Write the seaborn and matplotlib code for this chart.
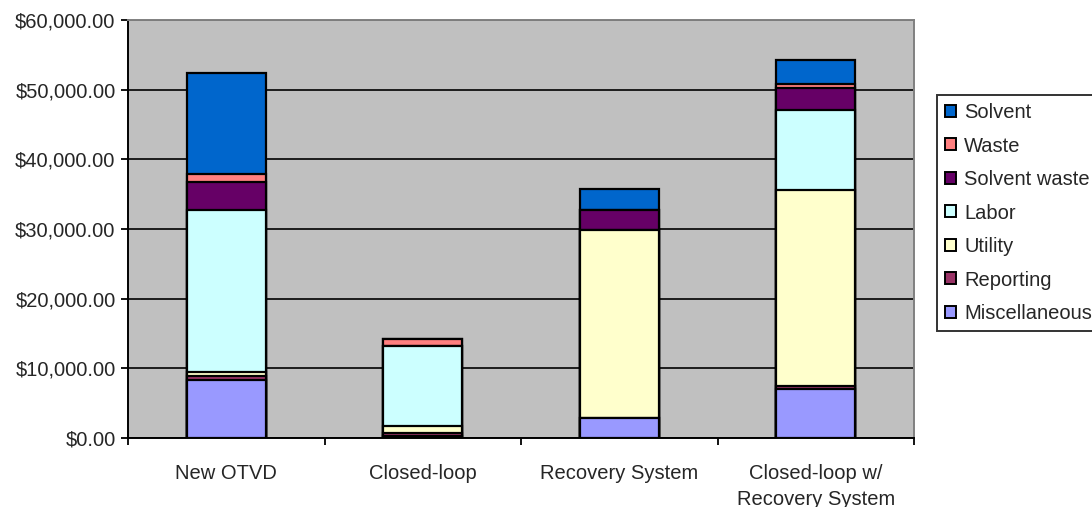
import numpy as np
import pandas as pd
import matplotlib
matplotlib.use("Agg")
import matplotlib.pyplot as plt
from matplotlib.patches import Patch
from matplotlib.ticker import FuncFormatter, FixedLocator
import seaborn as sns

# Annual cost breakdown per system configuration
categories = ["New OTVD", "Closed-loop", "Recovery System", "Closed-loop w/\nRecovery System"]
miscellaneous = [8300, 300, 2830, 7100]
reporting = [600, 350, 0, 350]
utility = [600, 1050, 27030, 28150]
labor = [23200, 11440, 0, 11480]
solvent_waste = [4000, 0, 2890, 3200]
waste = [1150, 1050, 0, 530]
solvent = [14600, 0, 2960, 3450]

series_names = ["Miscellaneous", "Reporting", "Utility", "Labor", "Solvent waste", "Waste", "Solvent"]
series_values = [miscellaneous, reporting, utility, labor, solvent_waste, waste, solvent]
series_colors = ["#9999FF", "#993366", "#FFFFCC", "#CCFFFF", "#660066", "#FF8080", "#0066CC"]

sns.set_theme(style="white")
plt.rcParams["font.family"] = ["Liberation Sans", "DejaVu Sans"]
FS = 14.5

fig = plt.figure(figsize=(10.92, 5.07), dpi=100)
ax = fig.add_axes([128 / 1092, 69 / 507, 786 / 1092, 418 / 507])
ax.set_facecolor("#C0C0C0")

df = pd.DataFrame({name: vals for name, vals in zip(series_names, series_values)})
df["category"] = categories
cum = df[series_names].cumsum(axis=1)

# Stacked bars: draw cumulative totals from the top layer down
for i in range(len(series_names) - 1, -1, -1):
    sns.barplot(x=df["category"], y=cum[series_names[i]], color=series_colors[i],
                width=0.4, edgecolor="black", linewidth=1.6, saturation=1,
                ax=ax, zorder=3)

ax.set_ylim(0, 60000)
ax.set_xlim(-0.5, 3.5)
ax.set_yticks(np.arange(0, 60001, 10000))
ax.yaxis.set_major_formatter(FuncFormatter(lambda v, p: f"${v:,.2f}"))
ax.grid(axis="y", color="black", linewidth=1.2, zorder=1)
ax.set_axisbelow(True)
ax.set_xlabel("")
ax.set_ylabel("")

ax.tick_params(axis="y", which="major", length=5, width=1.3, color="black",
               left=True, labelsize=FS, pad=4)
ax.tick_params(axis="x", which="major", length=0, labelsize=FS, pad=19)
for lbl in ax.get_xticklabels():
    lbl.set_linespacing(1.45)
ax.xaxis.set_minor_locator(FixedLocator([-0.5, 0.5, 1.5, 2.5, 3.5]))
ax.tick_params(axis="x", which="minor", length=5, width=1.3, color="black", bottom=True)

for side in ["left", "bottom"]:
    ax.spines[side].set_color("black")
    ax.spines[side].set_linewidth(1.4)
for side in ["top", "right"]:
    ax.spines[side].set_color("#808080")
    ax.spines[side].set_linewidth(1.4)

handles = [Patch(facecolor=c, edgecolor="black", linewidth=1.4)
           for c in series_colors[::-1]]
leg = fig.legend(handles, series_names[::-1], loc="upper left",
                 bbox_to_anchor=(937 / 1092, 412 / 507), frameon=True,
                 fontsize=FS, handlelength=0.55, handleheight=0.55,
                 handletextpad=0.4, labelspacing=0.72, borderpad=0.4,
                 fancybox=False, borderaxespad=0)
leg.get_frame().set_edgecolor("black")
leg.get_frame().set_linewidth(1.4)

fig.savefig("out.png", dpi=100)
